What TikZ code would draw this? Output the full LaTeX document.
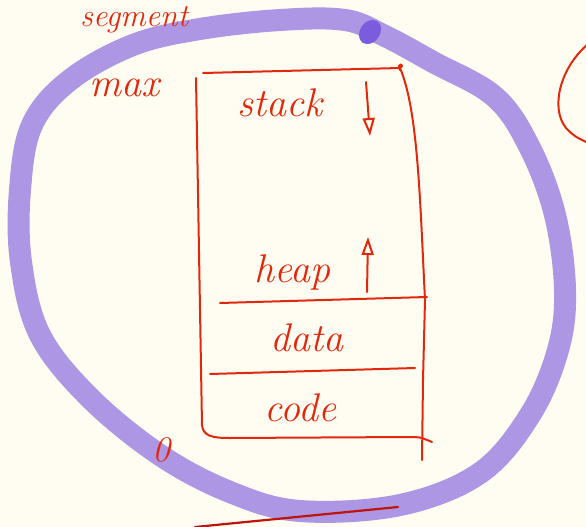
\documentclass[tikz,border=0pt]{standalone}
\usetikzlibrary{positioning, arrows.meta}
\definecolor{ink}{RGB}{226,40,12}
\definecolor{darkink}{RGB}{190,20,10}
\definecolor{lav}{RGB}{173,150,228}
\definecolor{pen}{RGB}{122,92,220}
\definecolor{paper}{RGB}{255,253,242}
\tikzset{
  hand/.style={ink, line width=2pt, line cap=round, line join=round},
  lbl/.style={ink, font=\fontsize{40}{42}\selectfont\itshape, inner sep=0pt},
  growarrow/.style={hand, -{Triangle[open, length=18pt, width=12pt]}}
}
\begin{document}
\begin{tikzpicture}[x=1pt, y=-1pt]
  \useasboundingbox (0,0) rectangle (586,527);
  \fill[paper] (0,0) rectangle (586,527);
  \clip (0,0) rectangle (586,527);

  % segment outline
  \draw[lav, line width=22pt, line join=round]
    plot[smooth cycle, tension=0.6] coordinates {
      (345,20) (280,20) (200,29) (133,45) (70,80) (32,125) (20,190)
      (21,262) (40,335) (90,398) (160,455) (230,492) (300,511)
      (400,505) (480,473) (530,415) (558,350) (565,290) (555,215)
      (530,148) (495,97) (433,62) (385,36)};
  \fill[pen, rotate around={-35:(370,32)}] (370,32) ellipse (10pt and 13pt);

  % title
  \node[lbl, font=\fontsize{32}{34}\selectfont\itshape, anchor=base west] (title) at (80,27) {segment};
  \draw[hand] (588,44) .. controls (560,68) and (550,108) .. (566,128)
    .. controls (574,136) .. (588,143);

  % address space box
  \coordinate (tl) at (203,73);
  \coordinate (tr) at (400,68);
  \draw[hand] (tl) -- (tr) .. controls (406,64) and (396,62) .. (400,70);
  \draw[hand] (196,78) -- (202,425) .. controls (203,436) and (212,438) .. (230,438)
    -- (410,437) .. controls (420,437) .. (432,442);
  \draw[hand] (tr) .. controls (418,110) and (420,200) .. (425,300) -- (423,380) -- (422,460);

  % dividers
  \coordinate (hd1) at (220,303);
  \coordinate (hd2) at (427,297);
  \coordinate (dc1) at (210,374);
  \coordinate (dc2) at (415,368);
  \draw[hand] (hd1) -- (hd2);
  \draw[hand] (dc1) -- (dc2);

  % labels
  \node[lbl] (max) at (124,88) {max};
  \node[lbl] (stack) at (280,103) {stack};
  \node[lbl] (heap) at (292,272) {heap};
  \node[lbl] (data) at (307,338) {data};
  \node[lbl] (code) at (300,408) {code};
  \node[lbl, font=\fontsize{36}{38}\selectfont\itshape] (zero) at (161,450) {0};

  % growth directions
  \coordinate (sd1) at (366,82);
  \coordinate (sd2) at (370,136);
  \coordinate (hu1) at (367,292);
  \coordinate (hu2) at (368,237);
  \draw[growarrow] (sd1) -- (sd2);
  \draw[growarrow] (hu1) -- (hu2);

  % underline below
  \draw[darkink, line width=2.2pt, line cap=round] (195,527) -- (398,507);
\end{tikzpicture}
\end{document}
